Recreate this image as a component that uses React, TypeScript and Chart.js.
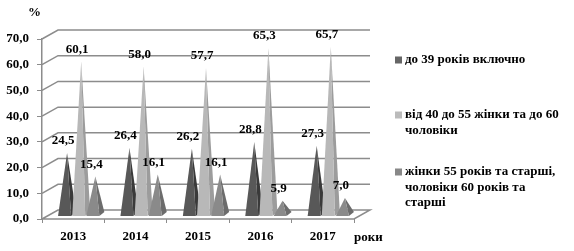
import React, { useEffect, useRef } from "react";
import { Chart, registerables } from "chart.js";

Chart.register(...registerables);

const categories = ["2013", "2014", "2015", "2016", "2017"];
const seriesNames = [
  ["до 39 років включно"],
  ["від 40 до 55 жінки та до 60", "чоловіки"],
  ["жінки 55 років та старші,", "чоловіки 60 років та", "старші"],
];
const upTo39 = [24.5, 26.4, 26.2, 28.8, 27.3];
const from40to55 = [60.1, 58.0, 57.7, 65.3, 65.7];
const olderAge = [15.4, 16.1, 16.1, 5.9, 7.0];
const yTicksMax = 70;
const yStep = 10;

const frontColors = ["#585858", "#b8b8b8", "#8a8a8a"];
const sideColors = ["#3a3a3a", "#9c9c9c", "#6c6c6c"];
const legendColors = ["#666666", "#bbbbbb", "#888888"];

const FONT = "bold 13px 'Liberation Serif', 'Times New Roman', serif";
const DX = 16;
const DY = -9;

const fmt = (v: number) => v.toFixed(1).replace(".", ",");

const pyramidPlugin = {
  id: "pyramid3d",
  beforeDatasetsDraw(chart: any) {
    const { ctx, chartArea, scales } = chart;
    const y = scales.y;
    ctx.save();
    ctx.strokeStyle = "#8c8c8c";
    ctx.lineWidth = 1.5;
    for (let v = 0; v <= yTicksMax; v += yStep) {
      const py = y.getPixelForValue(v);
      ctx.beginPath();
      ctx.moveTo(chartArea.left, py);
      ctx.lineTo(chartArea.left + DX, py + DY);
      ctx.lineTo(chartArea.right + DX, py + DY);
      if (v === 0) {
        ctx.lineTo(chartArea.right, py);
        ctx.lineTo(chartArea.left, py);
      }
      ctx.stroke();
    }
    ctx.restore();
  },
  afterDatasetsDraw(chart: any) {
    const { ctx, scales } = chart;
    const y = scales.y;
    const b = y.getPixelForValue(0) - 3;
    ctx.save();
    const metas = chart.data.datasets.map((_: any, i: number) => chart.getDatasetMeta(i));
    for (let idx = 0; idx < categories.length; idx++) {
      metas.forEach((meta: any, di: number) => {
        const el = meta.data[idx];
        const c = el.x + 8;
        const tip = el.y - 3;
        ctx.fillStyle = sideColors[di];
        ctx.beginPath();
        ctx.moveTo(c + 4, b);
        ctx.lineTo(c + 9, b - 4);
        ctx.lineTo(c, tip);
        ctx.closePath();
        ctx.fill();
        ctx.fillStyle = frontColors[di];
        ctx.beginPath();
        ctx.moveTo(c - 9, b);
        ctx.lineTo(c + 4, b);
        ctx.lineTo(c, tip);
        ctx.closePath();
        ctx.fill();
      });
    }
    ctx.fillStyle = "#000";
    ctx.font = FONT;
    ctx.textAlign = "center";
    ctx.textBaseline = "middle";
    metas.forEach((meta: any, di: number) => {
      const data = chart.data.datasets[di].data;
      meta.data.forEach((el: any, i: number) => {
        ctx.fillText(fmt(data[i]), el.x + 4, el.y - 15);
      });
    });
    ctx.textAlign = "left";
    ctx.fillText("%", 28, 13);
    ctx.fillText("роки", 354, 238);
    const lx = 395;
    const starts = [60, 115, 172];
    seriesNames.forEach((lines, i) => {
      ctx.fillStyle = legendColors[i];
      ctx.fillRect(lx, starts[i] - 3.5, 7, 7);
      ctx.fillStyle = "#000";
      lines.forEach((t, j) => {
        ctx.fillText(t, lx + 10, starts[i] + j * 15.5);
      });
    });
    ctx.restore();
  },
};

export default function App() {
  const ref = useRef<HTMLCanvasElement | null>(null);
  useEffect(() => {
    if (!ref.current) return;
    const chart = new Chart(ref.current, {
      type: "bar",
      data: {
        labels: categories,
        datasets: [
          { label: seriesNames[0].join(" "), data: upTo39, backgroundColor: "rgba(0,0,0,0)" },
          { label: seriesNames[1].join(" "), data: from40to55, backgroundColor: "rgba(0,0,0,0)" },
          { label: seriesNames[2].join(" "), data: olderAge, backgroundColor: "rgba(0,0,0,0)" },
        ],
      },
      options: {
        animation: false,
        responsive: true,
        maintainAspectRatio: false,
        layout: { padding: { left: 0, top: 39, right: 220, bottom: 0 } },
        plugins: { legend: { display: false }, tooltip: { enabled: false } },
        datasets: { bar: { categoryPercentage: 0.68, barPercentage: 1 } },
        scales: {
          x: {
            afterFit: (s: any) => {
              s.height = 32;
            },
            border: { display: false },
            grid: { drawOnChartArea: false, drawTicks: true, tickLength: 4, color: "#8c8c8c", offset: true },
            ticks: { color: "#000", font: { family: "'Liberation Serif', serif", size: 13, weight: "bold" }, padding: 6 },
          },
          y: {
            min: 0,
            max: yTicksMax,
            afterFit: (s: any) => {
              s.width = 42;
            },
            border: { display: true, color: "#8c8c8c", width: 1.5 },
            grid: { drawOnChartArea: false, drawTicks: true, tickLength: 5, color: "#8c8c8c" },
            ticks: {
              stepSize: yStep,
              color: "#000",
              padding: 8,
              font: { family: "'Liberation Serif', serif", size: 13, weight: "bold" },
              callback: (v: any) => fmt(Number(v)),
            },
          },
        },
      },
      plugins: [pyramidPlugin],
    });
    return () => chart.destroy();
  }, []);
  return (
    <div style={{ position: "fixed", left: 0, top: 0, width: 574, height: 251, background: "#fff" }}>
      <canvas ref={ref} />
    </div>
  );
}
